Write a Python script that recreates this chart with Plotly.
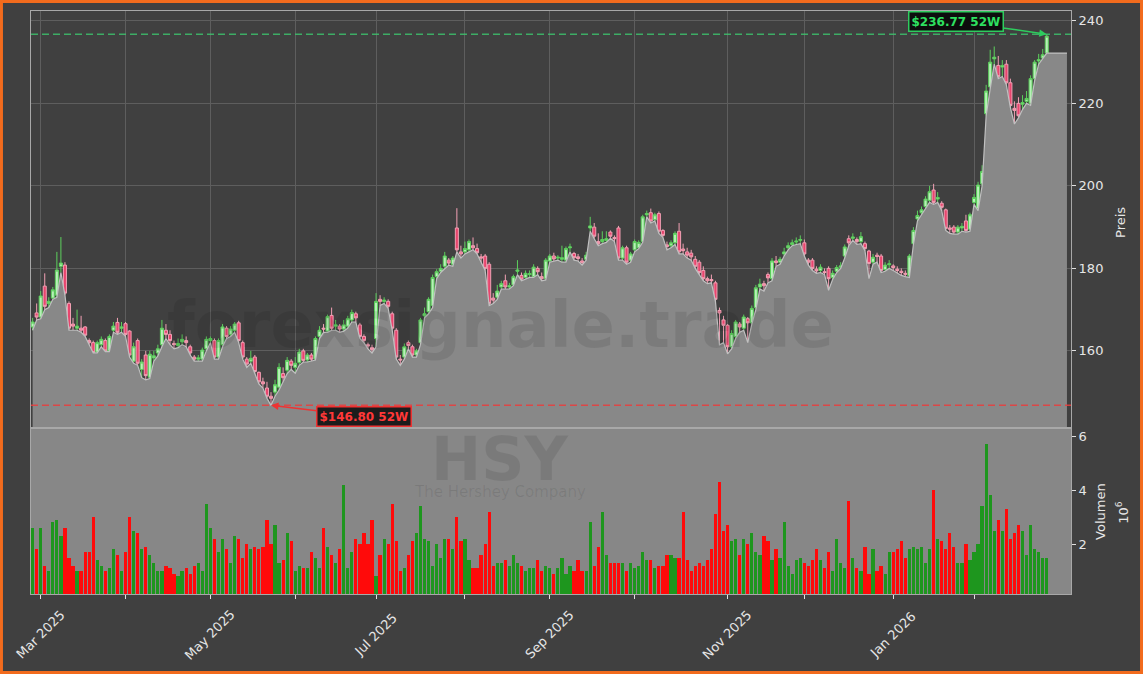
import pandas as pd
import plotly.graph_objects as go
from plotly.subplots import make_subplots

# ---------------- data ----------------
start_date = "2025-02-27"
market_holidays = ["2025-04-18", "2025-05-26", "2025-06-19", "2025-07-04", "2025-09-01",
                   "2025-11-27", "2025-12-25", "2026-01-01", "2026-01-19", "2026-02-16"]

opens = [
    165.8, 169.2, 168.2, 175.7, 171.5, 172.8, 173.5, 180.5, 180.8, 171.5,
    166.5, 165.5, 165.5, 165.8, 162.5, 162.0, 159.7, 161.5, 162.5, 160.0,
    165.0, 166.9, 165.5, 166.6, 164.8, 157.5, 162.5, 155.5, 159.0, 153.6,
    158.3, 159.5, 161.5, 165.0, 164.0, 161.8, 161.3, 162.2, 162.5, 161.0,
    158.5, 158.0, 158.0, 160.5, 162.5, 162.5, 158.5, 161.5, 165.5, 164.0,
    165.0, 166.8, 162.0, 158.0, 157.5, 158.5, 154.8, 152.5, 151.0, 149.0,
    150.0, 151.2, 154.5, 155.3, 157.5, 156.0, 157.2, 160.0, 157.8, 159.0,
    158.0, 163.5, 165.5, 164.8, 168.6, 166.0, 166.0, 165.3, 166.0, 167.5,
    169.0, 166.3, 163.5, 161.5, 160.8, 163.0, 172.5, 172.0, 172.0, 169.0,
    165.0, 158.0, 158.5, 162.0, 161.0, 159.0, 162.0, 168.5, 169.5, 171.0,
    178.0, 179.3, 180.5, 182.0, 181.0, 189.8, 184.0, 184.0, 184.5, 185.5,
    184.8, 182.8, 183.0, 181.0, 172.8, 173.0, 175.5, 177.0, 175.5, 176.0,
    179.3, 178.3, 177.8, 178.5, 178.0, 180.0, 178.0, 177.5, 181.8, 183.0,
    182.5, 182.2, 182.0, 185.0, 183.6, 182.8, 181.8, 182.2, 189.8, 190.0,
    186.5, 186.5, 186.8, 188.8, 187.5, 189.8, 182.5, 185.0, 182.0, 184.5,
    185.0, 186.5, 193.0, 193.5, 191.8, 193.3, 189.2, 185.7, 185.5, 186.2,
    189.0, 184.7, 184.0, 183.7, 182.2, 181.5, 179.5, 177.5, 177.3, 176.5,
    169.8, 167.5, 166.2, 161.0, 163.5, 166.5, 165.5, 167.8, 166.8, 170.5,
    175.5, 176.3, 178.5, 177.5, 181.8, 181.5, 183.5, 185.0, 185.8, 186.4,
    186.8, 186.2, 182.0, 182.0, 179.8, 179.5, 179.2, 180.0, 177.8, 179.3,
    180.3, 183.0, 187.2, 187.3, 187.0, 186.5, 186.0, 184.2, 181.5, 183.2,
    183.0, 179.7, 180.9, 180.6, 179.8, 179.3, 178.8, 178.2, 186.0, 192.0,
    193.5, 195.0, 196.5, 199.0, 196.8, 195.8, 194.2, 189.8, 190.0, 188.8,
    189.8, 191.5, 189.5, 196.0, 194.5, 200.5, 217.5, 224.0, 230.8, 229.2,
    228.8, 229.5, 225.0, 218.8, 220.0, 219.8, 220.5, 220.0, 226.0, 230.3,
    231.0, 232.2,
]
highs = [
    168.0, 171.5, 174.5, 178.8, 173.0, 175.5, 184.0, 187.6, 181.5, 172.0,
    168.0, 170.0, 168.5, 166.0, 163.0, 162.5, 162.5, 163.5, 163.0, 164.0,
    167.0, 168.0, 167.0, 167.0, 165.0, 162.0, 163.0, 158.0, 160.0, 160.0,
    160.0, 161.5, 167.5, 166.5, 165.0, 162.5, 163.0, 164.0, 163.5, 161.5,
    159.0, 159.0, 160.8, 163.5, 163.5, 163.0, 163.0, 166.5, 166.0, 166.0,
    167.0, 167.3, 162.5, 158.5, 160.0, 159.0, 155.0, 153.5, 152.5, 150.0,
    153.0, 157.0, 156.0, 158.5, 158.0, 158.5, 160.5, 160.5, 159.5, 159.5,
    163.5, 166.0, 166.5, 168.8, 170.5, 167.5, 166.5, 167.5, 168.5, 170.0,
    169.5, 166.8, 164.0, 162.0, 161.5, 174.0, 173.5, 173.0, 172.5, 169.5,
    165.5, 159.0, 161.8, 162.5, 161.5, 160.5, 168.0, 170.5, 173.0, 178.5,
    179.8, 181.0, 184.0, 182.5, 183.0, 194.6, 185.5, 186.5, 187.0, 187.5,
    186.0, 183.5, 183.5, 181.5, 174.0, 176.0, 177.0, 178.5, 176.5, 178.5,
    182.0, 179.0, 179.5, 179.5, 181.0, 180.5, 179.0, 182.5, 183.5, 183.8,
    183.2, 185.5, 185.3, 186.0, 184.0, 183.5, 182.5, 184.0, 192.5, 191.0,
    188.5, 189.0, 189.0, 189.2, 188.0, 190.3, 185.5, 185.5, 184.0, 187.0,
    186.8, 193.0, 194.0, 194.5, 193.5, 193.8, 189.5, 186.5, 186.8, 189.0,
    191.0, 186.0, 185.0, 184.5, 183.0, 182.0, 180.5, 178.0, 178.5, 177.0,
    170.5, 168.5, 166.5, 165.0, 167.5, 167.0, 168.8, 168.2, 171.0, 176.0,
    177.5, 177.0, 179.0, 182.5, 183.0, 182.8, 185.0, 186.3, 187.0, 187.5,
    188.0, 187.0, 182.5, 182.5, 180.5, 181.0, 180.0, 180.5, 179.5, 180.8,
    181.5, 185.8, 188.0, 188.5, 187.5, 188.8, 186.5, 184.5, 183.5, 183.8,
    183.5, 181.5, 182.0, 181.0, 180.5, 180.0, 179.5, 183.5, 190.0, 194.0,
    195.0, 197.5, 200.0, 200.5, 198.5, 196.3, 194.5, 190.5, 190.5, 190.5,
    191.0, 193.0, 193.5, 198.0, 201.0, 205.0, 224.5, 233.0, 233.8, 231.5,
    230.5, 230.5, 226.0, 220.5, 221.5, 222.0, 223.0, 226.8, 230.5, 232.0,
    233.2, 236.77,
]
lows = [
    165.0, 167.5, 167.8, 170.0, 170.5, 172.5, 173.0, 179.0, 173.5, 165.0,
    165.0, 165.0, 164.5, 163.5, 161.5, 159.5, 159.5, 161.0, 159.8, 159.8,
    164.5, 164.0, 164.5, 163.5, 158.5, 157.0, 156.5, 153.5, 153.0, 153.3,
    157.5, 158.8, 161.0, 163.0, 161.5, 160.5, 160.8, 161.5, 161.0, 159.0,
    157.5, 157.5, 157.5, 160.0, 162.0, 158.0, 158.0, 161.0, 163.0, 163.5,
    164.5, 162.0, 158.0, 156.0, 157.0, 154.5, 152.0, 151.0, 148.5, 146.8,
    149.0, 150.5, 152.5, 154.5, 155.5, 154.6, 156.5, 157.3, 157.3, 157.5,
    157.8, 163.0, 164.5, 164.5, 165.0, 165.0, 164.5, 164.8, 165.5, 167.0,
    167.0, 163.0, 162.0, 160.5, 159.5, 161.0, 171.0, 171.5, 170.3, 165.0,
    158.0, 156.5, 158.0, 160.5, 158.5, 158.5, 161.5, 168.0, 169.0, 170.5,
    177.5, 179.0, 180.0, 180.8, 180.5, 184.0, 182.5, 183.5, 184.0, 184.5,
    183.5, 181.5, 179.5, 171.0, 171.5, 172.5, 175.0, 175.0, 175.0, 175.8,
    178.5, 177.0, 177.5, 177.8, 177.8, 178.5, 177.0, 177.2, 181.5, 181.8,
    182.0, 181.5, 181.5, 184.0, 182.0, 181.8, 180.8, 182.0, 189.0, 187.2,
    185.5, 186.0, 186.3, 187.3, 186.5, 182.0, 182.0, 181.0, 181.5, 184.0,
    184.8, 186.3, 192.5, 191.0, 191.5, 188.5, 187.5, 184.5, 185.0, 185.8,
    183.5, 183.5, 182.5, 182.0, 180.0, 178.5, 177.0, 176.3, 176.5, 172.0,
    161.5, 162.0, 159.3, 160.5, 163.0, 164.5, 165.0, 162.0, 166.5, 170.0,
    175.0, 174.5, 176.5, 177.0, 180.5, 181.0, 183.0, 184.5, 185.5, 185.8,
    186.0, 183.0, 180.8, 179.5, 178.8, 179.0, 178.5, 174.7, 177.3, 179.0,
    180.0, 182.5, 185.5, 186.8, 185.8, 186.0, 184.3, 177.5, 181.0, 181.5,
    179.0, 179.3, 180.0, 179.5, 178.8, 178.3, 178.0, 177.8, 185.8, 191.5,
    193.0, 194.5, 196.0, 195.5, 196.0, 194.0, 189.2, 188.5, 188.3, 188.3,
    189.0, 188.8, 189.0, 195.5, 194.0, 200.0, 217.0, 223.5, 229.5, 226.0,
    226.5, 224.5, 219.0, 215.0, 216.5, 218.5, 220.0, 219.5, 225.5, 229.5,
    230.8, 232.2,
]
closes = [
    167.0, 168.2, 173.3, 170.8, 172.0, 174.8, 179.6, 181.3, 174.0, 165.5,
    166.0, 166.0, 165.0, 163.8, 162.0, 159.6, 162.0, 162.8, 160.0, 163.5,
    166.0, 164.5, 165.8, 164.0, 159.0, 161.0, 157.0, 157.3, 154.0, 159.2,
    158.8, 160.5, 165.5, 164.0, 162.5, 161.5, 161.8, 162.8, 162.0, 159.5,
    158.0, 158.3, 160.2, 162.8, 163.0, 158.5, 162.5, 165.8, 163.5, 165.3,
    166.5, 162.5, 158.5, 156.8, 158.2, 155.0, 152.5, 152.0, 149.0, 148.5,
    151.8, 156.0, 153.5, 157.7, 156.5, 157.0, 159.7, 157.7, 159.0, 158.0,
    163.0, 165.0, 165.3, 168.3, 165.5, 166.3, 165.3, 166.3, 167.8, 169.3,
    168.0, 163.5, 162.5, 161.2, 160.3, 172.0, 172.0, 172.3, 170.8, 165.5,
    158.5, 157.8, 161.0, 161.3, 159.0, 160.0, 167.5, 169.0, 172.5, 177.8,
    179.2, 180.0, 183.0, 181.3, 182.5, 184.5, 183.5, 184.8, 186.5, 185.0,
    183.8, 182.5, 180.0, 171.5, 172.3, 174.5, 176.3, 175.5, 175.8, 178.0,
    179.6, 177.4, 178.8, 178.7, 180.3, 179.2, 177.5, 182.0, 183.0, 182.3,
    182.7, 182.6, 184.8, 185.2, 182.6, 182.4, 181.4, 183.2, 190.3, 187.8,
    186.0, 187.0, 187.2, 187.8, 187.2, 182.5, 185.0, 181.5, 183.5, 186.5,
    186.3, 192.5, 193.3, 191.5, 193.0, 189.0, 188.0, 185.3, 186.2, 188.5,
    184.0, 184.3, 183.2, 182.8, 180.5, 179.0, 177.5, 177.0, 177.0, 172.5,
    169.2, 166.2, 161.0, 164.2, 167.0, 165.8, 168.2, 166.8, 170.3, 175.3,
    176.2, 175.8, 177.7, 181.8, 181.4, 182.2, 184.0, 185.5, 186.2, 186.6,
    187.0, 183.5, 181.5, 180.0, 179.4, 180.3, 179.0, 177.5, 178.8, 180.2,
    180.6, 185.2, 186.2, 187.6, 186.5, 187.7, 184.8, 181.2, 182.7, 182.9,
    179.5, 180.8, 181.1, 180.2, 179.5, 179.0, 178.6, 183.0, 189.2, 192.8,
    194.2, 196.8, 198.6, 196.0, 197.2, 194.8, 189.7, 189.5, 188.8, 190.0,
    190.2, 189.2, 193.0, 197.2, 200.2, 203.5, 223.0, 230.0, 231.2, 226.5,
    229.2, 225.0, 219.5, 218.3, 217.0, 220.2, 221.2, 226.0, 230.0, 230.6,
    231.8, 236.3,
]
volumes_m = [
    2.6, 1.8, 2.6, 1.2, 1.0, 2.8, 2.9, 2.3, 2.6, 1.5,
    1.2, 1.0, 1.0, 1.7, 1.7, 3.0, 1.4, 1.2, 1.0, 1.1,
    1.8, 1.6, 1.0, 1.7, 3.0, 2.5, 2.4, 1.8, 1.9, 1.6,
    1.3, 1.0, 1.0, 1.2, 1.1, 0.9, 0.8, 1.0, 1.1, 0.9,
    1.2, 1.3, 1.0, 3.5, 2.6, 2.2, 1.7, 2.2, 1.8, 1.3,
    2.3, 2.2, 1.5, 2.0, 1.8, 1.9, 1.8, 1.9, 2.9, 2.0,
    2.7, 1.3, 1.4, 2.4, 2.1, 1.0, 1.2, 1.1, 1.1, 1.7,
    1.5, 1.1, 2.6, 1.9, 1.6, 1.3, 1.8, 4.2, 1.1, 1.7,
    2.2, 2.0, 2.4, 2.0, 2.9, 0.8, 1.6, 2.2, 2.0, 3.5,
    2.1, 1.0, 1.1, 1.6, 2.1, 2.4, 3.4, 2.2, 2.1, 1.2,
    2.0, 1.5, 2.2, 2.2, 1.8, 3.0, 2.1, 2.2, 1.4, 1.1,
    1.1, 1.6, 2.0, 3.2, 1.2, 1.3, 1.3, 1.4, 1.2, 1.6,
    1.3, 1.2, 1.0, 1.1, 1.1, 1.4, 1.0, 1.2, 1.1, 0.9,
    1.1, 1.5, 0.9, 1.2, 1.0, 1.4, 1.0, 1.0, 2.8, 1.2,
    1.9, 3.2, 1.6, 1.3, 1.3, 1.3, 1.3, 1.0, 1.3, 1.1,
    1.2, 1.7, 1.4, 1.4, 1.1, 1.2, 1.2, 1.6, 1.6, 1.5,
    1.5, 3.2, 1.4, 1.0, 1.2, 1.3, 1.2, 1.4, 1.8, 3.1,
    4.3, 2.5, 2.7, 2.1, 2.2, 1.6, 2.2, 2.0, 2.4, 1.7,
    1.6, 2.3, 2.1, 1.4, 1.8, 1.5, 2.8, 1.2, 0.9, 1.4,
    1.5, 1.3, 1.2, 1.4, 1.8, 1.4, 1.1, 1.7, 1.0, 2.2,
    1.3, 1.1, 3.6, 1.5, 1.1, 1.0, 1.9, 0.9, 1.8, 1.0,
    1.2, 0.9, 1.7, 1.7, 1.8, 2.1, 1.5, 1.8, 1.9, 1.8,
    1.9, 1.3, 1.8, 4.0, 2.2, 2.1, 1.8, 2.4, 1.9, 1.3,
    1.3, 2.0, 1.4, 1.7, 2.0, 3.4, 5.7, 3.8, 2.5, 2.9,
    2.5, 3.3, 2.2, 2.4, 2.7, 2.5, 1.6, 2.7, 1.8, 1.7,
    1.5, 1.5,
]
high_52w = 236.77
low_52w = 146.80
price_ticks = [160, 180, 200, 220, 240]
volume_ticks = [2, 4, 6]
label_months = [3, 5, 7, 9, 11, 1]
watermark = "forexsignale.trade"
ticker = "HSY"
company = "The Hershey Company"

# ---------------- derived ----------------
n = len(closes)
dates = pd.bdate_range(start=start_date, periods=n, freq="C", holidays=market_holidays)
idx = list(range(n))
tail = 5
area_x = list(range(n + tail))
area_y = lows + [lows[-1]] * tail

month_ticks = [i for i in range(1, n) if dates[i].month != dates[i - 1].month]
month_labels = [(i, dates[i].strftime("%b %Y")) for i in month_ticks if dates[i].month in label_months]

vol_colors = ["#1e961e" if c >= o else "#ff0a0a" for o, c in zip(opens, closes)]
hi_idx = highs.index(max(highs))
lo_idx = lows.index(min(lows))

BG = "#404040"
AREA = "#888888"
TXT = "#e6e6e6"
FONT = "DejaVu Sans"
WM = "rgba(0,0,0,0.09)"

fig = make_subplots(rows=2, cols=1, shared_xaxes=True, vertical_spacing=0,
                    row_heights=[0.7153, 0.2847])

fig.add_trace(go.Scatter(x=area_x, y=area_y, mode="lines", fill="tozeroy",
                         fillcolor=AREA, line=dict(color="#c0c0c0", width=1.2),
                         hoverinfo="skip"), row=1, col=1)

fig.add_trace(go.Candlestick(
    x=idx, open=opens, high=highs, low=lows, close=closes,
    increasing=dict(line=dict(color="#5ccf5c", width=1), fillcolor="#b8f0b8"),
    decreasing=dict(line=dict(color="#f2a0b4", width=1), fillcolor="#e8456e"),
    whiskerwidth=0,
), row=1, col=1)

fig.add_trace(go.Bar(x=idx, y=volumes_m, marker=dict(color=vol_colors, line=dict(width=0)),
                     width=0.8), row=2, col=1)

# volume panel background
fig.add_shape(type="rect", xref="x2 domain", yref="y2 domain", x0=0, x1=1, y0=0, y1=1,
              fillcolor="#878787", line=dict(width=0), layer="below")

# 52W lines
fig.add_shape(type="line", xref="x domain", yref="y", x0=0, x1=1, y0=high_52w, y1=high_52w,
              line=dict(color="rgba(60,200,110,0.8)", width=1.5, dash="7px,4px"))
fig.add_shape(type="line", xref="x domain", yref="y", x0=0, x1=1, y0=low_52w, y1=low_52w,
              line=dict(color="rgba(235,60,60,0.85)", width=1.5, dash="7px,4px"))

# orange outer border
fig.add_shape(type="rect", xref="paper", yref="paper",
              x0=-0.0284, x1=1.0678, y0=-0.1346, y1=1.0163,
              line=dict(color="#f26b1d", width=3), fillcolor="rgba(0,0,0,0)", layer="above")

ann = []
ann.append(dict(x=hi_idx, y=high_52w, xref="x", yref="y",
                text=f"<b>${high_52w:.2f} 52W</b>", showarrow=True, arrowhead=2,
                arrowsize=1, arrowwidth=1.5, arrowcolor="#2ecc5e", ax=-91, ay=-13,
                font=dict(color="#2ee060", size=12, family=FONT),
                bgcolor="#0d0d0d", bordercolor="#2ecc5e", borderwidth=1.5, borderpad=2))
ann.append(dict(x=lo_idx, y=low_52w, xref="x", yref="y",
                text=f"<b>${low_52w:.2f} 52W</b>", showarrow=True, arrowhead=2,
                arrowsize=1, arrowwidth=1.5, arrowcolor="#ee3333", ax=93, ay=11,
                font=dict(color="#ff3838", size=12, family=FONT),
                bgcolor="#1c1c1c", bordercolor="#ee3333", borderwidth=1.5, borderpad=2))

# watermark
ann.append(dict(x=0.451, y=0.461, xref="paper", yref="paper", text=f"<b>{watermark}</b>",
                xanchor="center", yanchor="middle",
                showarrow=False, font=dict(size=64, color=WM, family=FONT)))
ann.append(dict(x=0.451, y=0.232, xref="paper", yref="paper", text=f"<b>{ticker}</b>",
                xanchor="center", yanchor="middle",
                showarrow=False, font=dict(size=60, color=WM, family=FONT)))
ann.append(dict(x=0.451, y=0.175, xref="paper", yref="paper", text=company,
                xanchor="center", yanchor="middle",
                showarrow=False, font=dict(size=15, color=WM, family=FONT)))

# axis titles
ann.append(dict(x=1.047, y=0.638, xref="paper", yref="paper", text="Preis", textangle=-90,
                xanchor="center", yanchor="middle",
                showarrow=False, font=dict(size=13, color=TXT, family=FONT)))
ann.append(dict(x=1.029, y=0.141, xref="paper", yref="paper", text="Volumen", textangle=-90,
                xanchor="center", yanchor="middle",
                showarrow=False, font=dict(size=13, color=TXT, family=FONT)))
ann.append(dict(x=1.049, y=0.141, xref="paper", yref="paper", text="10<sup>6</sup>", textangle=-90,
                xanchor="center", yanchor="middle",
                showarrow=False, font=dict(size=13, color=TXT, family=FONT)))

# rotated month labels centred on ticks
for i, lab in month_labels:
    ann.append(dict(x=i, y=-0.0703, xref="x2", yref="paper", text=lab, textangle=-45,
                    showarrow=False, xanchor="center", yanchor="middle",
                    font=dict(size=13, color=TXT, family=FONT)))

fig.update_layout(
    width=1143, height=674, margin=dict(l=31, r=72, t=11, b=80),
    paper_bgcolor=BG, plot_bgcolor=BG, showlegend=False,
    font=dict(family=FONT, color=TXT, size=13),
    annotations=ann, bargap=0, boxgap=0.25, boxgroupgap=0,
)

axis_common = dict(showline=True, linecolor="#a8a8a8", linewidth=1, mirror=True,
                   zeroline=False, automargin=False)
fig.update_xaxes(type="linear", range=[-0.4, 257], tickvals=month_ticks, showticklabels=False,
                 rangeslider_visible=False, **axis_common)
fig.update_xaxes(row=1, col=1, showgrid=True, gridcolor="#5e5e5e", gridwidth=1, ticks="")
fig.update_xaxes(row=2, col=1, showgrid=False, ticks="outside", ticklen=4, tickcolor="#e0e0e0")
fig.update_yaxes(row=1, col=1, side="right", range=[141.3, 242.4], tickvals=price_ticks,
                 showgrid=True, gridcolor="#5e5e5e", gridwidth=1, ticks="outside", ticklen=4,
                 tickcolor="#e0e0e0", tickfont=dict(size=13, color=TXT), **axis_common)
fig.update_yaxes(row=2, col=1, side="right", range=[0.15, 6.3], tickvals=volume_ticks,
                 showgrid=False, ticks="outside", ticklen=4, tickcolor="#e0e0e0",
                 tickfont=dict(size=13, color=TXT), **axis_common)

fig.write_html("out.html", config={"displayModeBar": False},
               post_script="document.body.style.margin='0px';")
